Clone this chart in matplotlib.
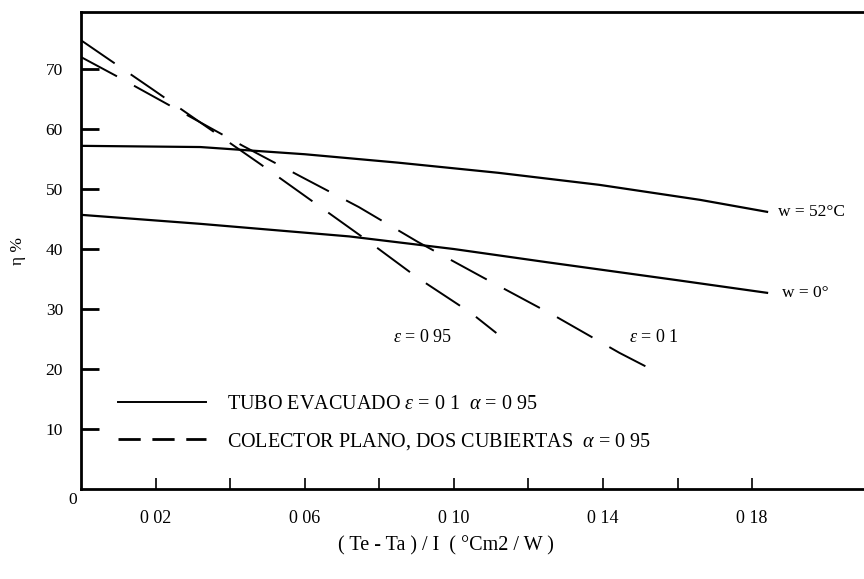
import matplotlib
matplotlib.use("Agg")
import matplotlib.pyplot as plt
from matplotlib.lines import Line2D

plt.rcParams["font.family"] = ["Liberation Serif", "DejaVu Serif"]
plt.rcParams["mathtext.fontset"] = "custom"
plt.rcParams["mathtext.rm"] = "Liberation Serif"
plt.rcParams["mathtext.it"] = "Liberation Serif:italic"

# ── data ─────────────────────────────────────────────────────────────────────
# evacuated tube, two operating cases
x_w52 = [0.0, 0.032, 0.060, 0.085, 0.112, 0.139, 0.166, 0.184]
y_w52 = [57.2, 57.0, 55.8, 54.4, 52.7, 50.7, 48.2, 46.2]

x_w0 = [0.0, 0.032, 0.072, 0.100, 0.125, 0.160, 0.184]
y_w0 = [45.7, 44.2, 42.1, 40.0, 37.8, 34.8, 32.7]

# flat plate collector, two covers
x_e095 = [0.0, 0.019, 0.048, 0.0613, 0.0766, 0.0903, 0.1047, 0.1114]
y_e095 = [74.8, 66.7, 54.2, 48.3, 41.5, 35.2, 29.3, 26.0]

x_e01 = [0.0, 0.0099, 0.0434, 0.0592, 0.0745, 0.0903, 0.1077, 0.1275, 0.1444, 0.1522]
y_e01 = [72.0, 68.7, 57.2, 52.0, 47.0, 41.2, 35.3, 28.7, 22.7, 20.2]

x_ticks = [0.02, 0.04, 0.06, 0.08, 0.10, 0.12, 0.14, 0.16, 0.18]
x_ticklabels = ["0 02", "", "0 06", "", "0 10", "", "0 14", "", "0 18"]
y_ticks = [10, 20, 30, 40, 50, 60, 70]

# ── plot ─────────────────────────────────────────────────────────────────────
fig = plt.figure(figsize=(8.64, 5.79), dpi=100)
ax = fig.add_axes([0.09375, 0.1554, 0.90625, 0.8238])

dash = (0, (21, 10))
ax.plot(x_w52, y_w52, color="black", lw=1.6)
ax.plot(x_w0, y_w0, color="black", lw=1.6)
ax.plot(x_e095, y_e095, color="black", lw=1.4, linestyle=dash)
ax.plot(x_e01, y_e01, color="black", lw=1.4, linestyle=dash)

ax.set_xlim(0, 0.21)
ax.set_ylim(0, 79.5)

ax.spines["right"].set_visible(False)
for s in ("left", "top", "bottom"):
    ax.spines[s].set_linewidth(2.0)

ax.set_xticks(x_ticks)
ax.set_xticklabels(x_ticklabels)
ax.set_yticks(y_ticks)
ax.tick_params(axis="x", direction="in", length=8, width=1.2, pad=15, labelsize=13)
ax.tick_params(axis="y", direction="in", length=13, width=2.0, pad=13, labelsize=12.5)

ax.text(-0.0012, -1.8, "0", ha="right", va="center", fontsize=12.5)

# curve labels
ax.text(0.187, y_w52[-1], "w = 52°C", ha="left", va="center", fontsize=12.5)
ax.text(0.188, y_w0[-1], "w = 0°", ha="left", va="center", fontsize=12.5)
ax.text(0.0836, 25.3, r"$\varepsilon$ = 0 95", ha="left", va="center", fontsize=13)
ax.text(0.147, 25.2, r"$\varepsilon$ = 0 1", ha="left", va="center", fontsize=13)

handles = [
    Line2D([], [], color="black", lw=1.4),
    Line2D([], [], color="black", lw=2.0, linestyle=(0, (8, 4.2))),
]
labels = [
    r"TUBO EVACUADO $\varepsilon$ = 0 1  $\alpha$ = 0 95",
    r"COLECTOR PLANO, DOS CUBIERTAS  $\alpha$ = 0 95",
]
ax.legend(handles, labels, loc="upper left", bbox_to_anchor=(0.047, 0.198),
          frameon=False, fontsize=14.5, handlelength=4.4, handletextpad=1.0,
          labelspacing=0.85, borderaxespad=0, borderpad=0)

ax.set_ylabel("η %", fontsize=12.5, labelpad=14)
fig.text(0.516, 0.058, "( Te - Ta ) / I  ( °Cm2 / W )", ha="center", va="center",
         fontsize=14.5)

fig.savefig("out.png", dpi=100, facecolor="white")
plt.close(fig)
